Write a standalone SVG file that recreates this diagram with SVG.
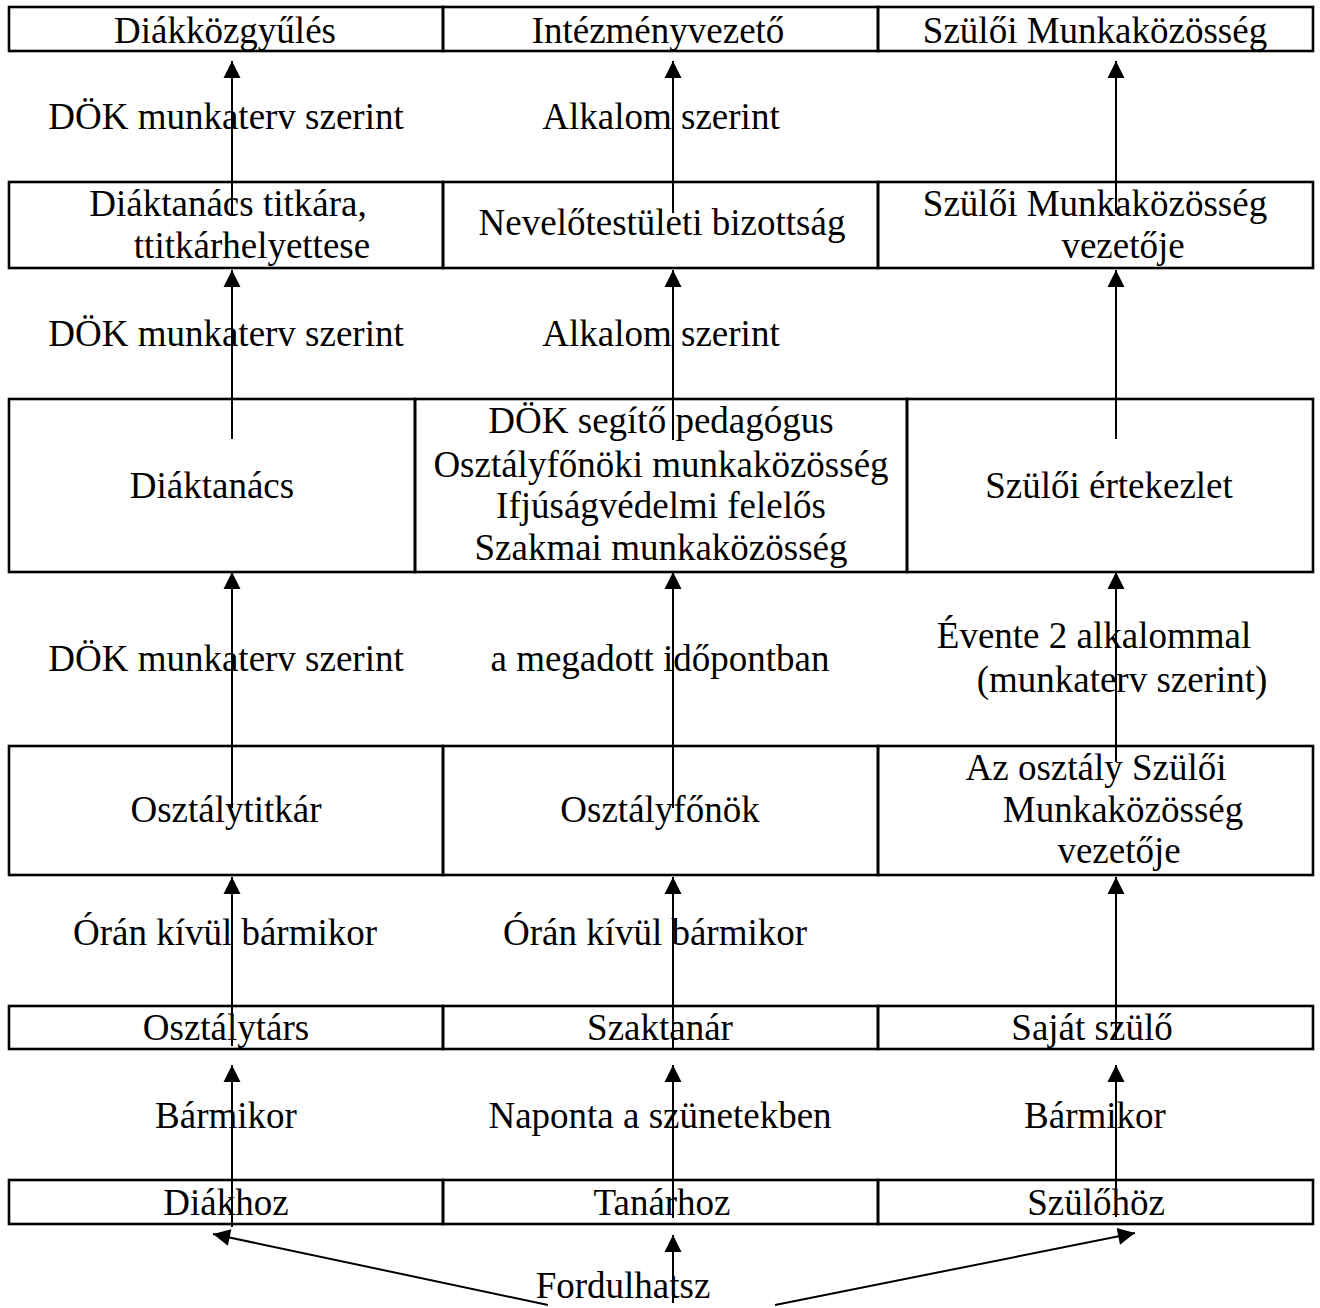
<svg xmlns="http://www.w3.org/2000/svg" width="1320" height="1308" viewBox="0 0 1320 1308">
<style>
rect.cell{fill:none;stroke:#000;stroke-width:2.6}
text{font-family:"Liberation Serif","Times New Roman",serif;font-size:37px;fill:#000;text-anchor:middle}
.conn line{stroke:#000;stroke-width:2}
</style>
<defs>
<marker id="ah" markerUnits="userSpaceOnUse" markerWidth="18" markerHeight="18" viewBox="0 0 17 18" refX="17" refY="9" orient="auto">
<path d="M0,0.5 L17,9 L0,17.5 z" fill="#000"/>
</marker>
</defs>
<rect width="1320" height="1308" fill="#fff"/>

<g id="r1c1"><rect class="cell" x="9" y="7" width="434" height="44"/><text x="225" y="43">Diákközgyűlés</text></g>
<g id="r1c2"><rect class="cell" x="443" y="7" width="435" height="44"/><text x="658" y="43">Intézményvezető</text></g>
<g id="r1c3"><rect class="cell" x="878" y="7" width="435" height="44"/><text x="1095" y="43">Szülői Munkaközösség</text></g>

<g id="r2c1"><rect class="cell" x="9" y="182" width="434" height="86"/><text x="228" y="216">Diáktanács titkára,</text><text x="252" y="258">ttitkárhelyettese</text></g>
<g id="r2c2"><rect class="cell" x="443" y="182" width="435" height="86"/><text x="662" y="235">Nevelőtestületi bizottság</text></g>
<g id="r2c3"><rect class="cell" x="878" y="182" width="435" height="86"/><text x="1095" y="216">Szülői Munkaközösség</text><text x="1123" y="258">vezetője</text></g>

<g id="r3c1"><rect class="cell" x="9" y="399" width="406" height="173"/><text x="212" y="498">Diáktanács</text></g>
<g id="r3c2"><rect class="cell" x="415" y="399" width="492" height="173"/><text x="661" y="433">DÖK segítő pedagógus</text><text x="661" y="477">Osztályfőnöki munkaközösség</text><text x="661" y="518">Ifjúságvédelmi felelős</text><text x="661" y="560">Szakmai munkaközösség</text></g>
<g id="r3c3"><rect class="cell" x="907" y="399" width="406" height="173"/><text x="1109" y="498">Szülői értekezlet</text></g>

<g id="r4c1"><rect class="cell" x="9" y="746" width="434" height="129"/><text x="226" y="822">Osztálytitkár</text></g>
<g id="r4c2"><rect class="cell" x="443" y="746" width="435" height="129"/><text x="660" y="822">Osztályfőnök</text></g>
<g id="r4c3"><rect class="cell" x="878" y="746" width="435" height="129"/><text x="1096" y="780">Az osztály Szülői</text><text x="1123" y="822">Munkaközösség</text><text x="1119" y="863">vezetője</text></g>

<g id="r5c1"><rect class="cell" x="9" y="1006" width="434" height="43"/><text x="226" y="1040">Osztálytárs</text></g>
<g id="r5c2"><rect class="cell" x="443" y="1006" width="435" height="43"/><text x="660" y="1040">Szaktanár</text></g>
<g id="r5c3"><rect class="cell" x="878" y="1006" width="435" height="43"/><text x="1092" y="1040">Saját szülő</text></g>

<g id="r6c1"><rect class="cell" x="9" y="1180" width="434" height="44"/><text x="226" y="1215">Diákhoz</text></g>
<g id="r6c2"><rect class="cell" x="443" y="1180" width="435" height="44"/><text x="662" y="1215">Tanárhoz</text></g>
<g id="r6c3"><rect class="cell" x="878" y="1180" width="435" height="44"/><text x="1096" y="1215">Szülőhöz</text></g>

<g id="fordulhatsz"><text x="623" y="1298">Fordulhatsz</text></g>

<g id="labels">
<text x="226" y="129">DÖK munkaterv szerint</text>
<text x="661" y="129">Alkalom szerint</text>
<text x="226" y="346">DÖK munkaterv szerint</text>
<text x="661" y="346">Alkalom szerint</text>
<text x="226" y="671">DÖK munkaterv szerint</text>
<text x="660" y="671">a megadott időpontban</text>
<text x="1094" y="648">Évente 2 alkalommal</text>
<text x="1122" y="692">(munkaterv szerint)</text>
<text x="225" y="945">Órán kívül bármikor</text>
<text x="655" y="945">Órán kívül bármikor</text>
<text x="226" y="1128">Bármikor</text>
<text x="660" y="1128">Naponta a szünetekben</text>
<text x="1095" y="1128">Bármikor</text>
</g>

<g id="connectors" class="conn">
<line x1="232" y1="215" x2="232" y2="61" marker-end="url(#ah)"/>
<line x1="232" y1="439" x2="232" y2="270" marker-end="url(#ah)"/>
<line x1="232" y1="808" x2="232" y2="572" marker-end="url(#ah)"/>
<line x1="232" y1="1046" x2="232" y2="877" marker-end="url(#ah)"/>
<line x1="232" y1="1227" x2="232" y2="1065" marker-end="url(#ah)"/>

<line x1="673" y1="213" x2="673" y2="61" marker-end="url(#ah)"/>
<line x1="673" y1="440" x2="673" y2="270" marker-end="url(#ah)"/>
<line x1="673" y1="808" x2="673" y2="572" marker-end="url(#ah)"/>
<line x1="673" y1="1049" x2="673" y2="877" marker-end="url(#ah)"/>
<line x1="673" y1="1218" x2="673" y2="1065" marker-end="url(#ah)"/>
<line x1="673" y1="1303" x2="673" y2="1235" marker-end="url(#ah)"/>

<line x1="1116" y1="213" x2="1116" y2="61" marker-end="url(#ah)"/>
<line x1="1116" y1="439" x2="1116" y2="270" marker-end="url(#ah)"/>
<line x1="1116" y1="762" x2="1116" y2="572" marker-end="url(#ah)"/>
<line x1="1116" y1="1040" x2="1116" y2="877" marker-end="url(#ah)"/>
<line x1="1116" y1="1217" x2="1116" y2="1065" marker-end="url(#ah)"/>

<line x1="548" y1="1305" x2="213" y2="1234" marker-end="url(#ah)"/>
<line x1="775" y1="1305" x2="1135" y2="1233" marker-end="url(#ah)"/>
</g>
</svg>
